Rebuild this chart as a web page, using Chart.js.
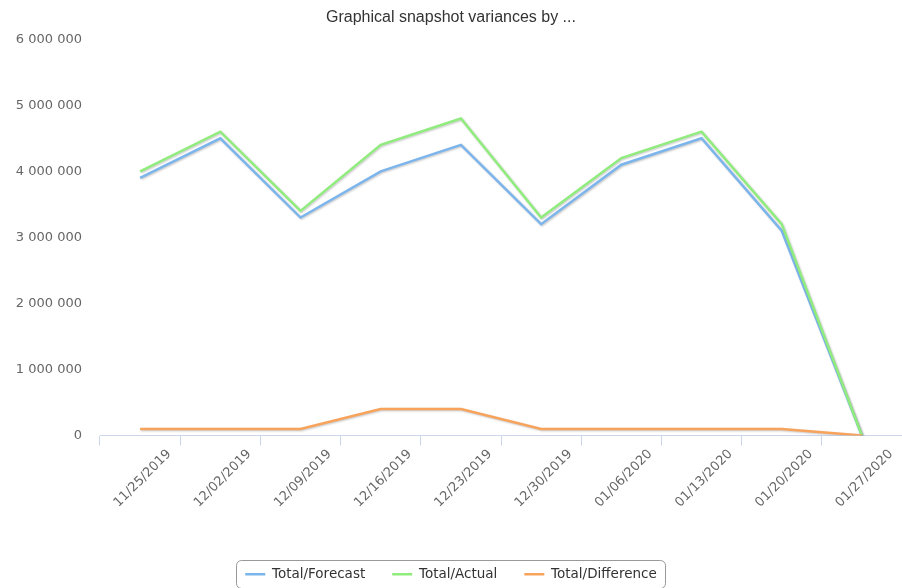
<!DOCTYPE html>
<html lang="en">

<head>
    <meta charset="UTF-8">
    <title>Graphical snapshot variances</title>
    <script src="https://cdn.jsdelivr.net/npm/chart.js"></script>
    <style>
        html, body {
            margin: 0;
            padding: 0;
            background: #ffffff;
        }

        .chart-box {
            width: 902px;
            height: 588px;
        }
    </style>
</head>

<body>
    <div class="chart-box">
        <canvas id="varianceChart"></canvas>
    </div>
    <script>
        // weeks on the x axis
        var weeks = ['11/25/2019', '12/02/2019', '12/09/2019', '12/16/2019', '12/23/2019',
            '12/30/2019', '01/06/2020', '01/13/2020', '01/20/2020', '01/27/2020'];

        // series values
        var forecast = [3900000, 4500000, 3300000, 4000000, 4400000, 3200000, 4100000, 4500000, 3100000, 0];
        var actual = [4000000, 4600000, 3400000, 4400000, 4800000, 3300000, 4200000, 4600000, 3200000, 0];
        var difference = [100000, 100000, 100000, 400000, 400000, 100000, 100000, 100000, 100000, 0];

        var seriesNames = ['Total/Forecast', 'Total/Actual', 'Total/Difference'];

        // y axis range
        var yMin = 0;
        var yMax = 6000000;
        var yStep = 1000000;

        function spaced(v) {
            return String(v).replace(/\B(?=(\d{3})+(?!\d))/g, ' ');
        }

        // soft drop shadow under each line, like the original
        var lineShadow = {
            id: 'lineShadow',
            beforeDatasetDraw: function (chart) {
                var ctx = chart.ctx;
                ctx.save();
                ctx.shadowColor = 'rgba(0, 0, 0, 0.22)';
                ctx.shadowBlur = 2;
                ctx.shadowOffsetX = 1;
                ctx.shadowOffsetY = 1;
            },
            afterDatasetDraw: function (chart) {
                chart.ctx.restore();
            }
        };

        // rounded frame round the legend items
        var legendFrame = {
            id: 'legendFrame',
            afterDraw: function (chart) {
                var boxes = chart.legend.legendHitBoxes;
                if (!boxes || !boxes.length) return;
                var left = Math.min.apply(null, boxes.map(function (b) { return b.left; }));
                var right = Math.max.apply(null, boxes.map(function (b) { return b.left + b.width; }));
                var mid = boxes[0].top + boxes[0].height / 2;
                var ctx = chart.ctx;
                ctx.save();
                ctx.strokeStyle = '#999999';
                ctx.lineWidth = 1;
                ctx.beginPath();
                ctx.roundRect(Math.round(left - 9) + 0.5, Math.round(mid - 14) + 0.5, Math.round(right - left + 18), 28, 5);
                ctx.stroke();
                ctx.restore();
            }
        };

        var colors = ['#7cb5ec', '#90ed7d', '#f7a35c'];
        var values = [forecast, actual, difference];

        var varianceChart = new Chart(document.getElementById('varianceChart'), {
            type: 'line',
            data: {
                labels: weeks,
                datasets: values.map(function (v, i) {
                    return {
                        label: seriesNames[i],
                        data: v,
                        borderColor: colors[i],
                        backgroundColor: colors[i],
                        borderWidth: 2.5,
                        pointRadius: 0,
                        tension: 0,
                        order: 2 - i
                    };
                })
            },
            options: {
                responsive: true,
                maintainAspectRatio: false,
                animation: false,
                layout: {
                    padding: { left: 0, right: 0, top: 0, bottom: -3 }
                },
                plugins: {
                    title: {
                        display: true,
                        text: 'Graphical snapshot variances by ...',
                        color: '#333333',
                        font: { family: 'Liberation Sans', size: 16, weight: 'normal' },
                        padding: { top: 8, bottom: 12 }
                    },
                    legend: {
                        position: 'bottom',
                        labels: {
                            usePointStyle: true,
                            pointStyleWidth: 20,
                            pointStyle: 'line',
                            padding: 27,
                            color: '#333333',
                            font: { family: 'DejaVu Sans', size: 13.5 },
                            sort: function (a, b) { return a.datasetIndex - b.datasetIndex; }
                        }
                    },
                    tooltip: { enabled: false }
                },
                scales: {
                    x: {
                        offset: true,
                        grid: {
                            offset: true,
                            drawOnChartArea: false,
                            drawTicks: true,
                            tickLength: 10,
                            color: '#ccd6eb'
                        },
                        border: { color: '#ccd6eb' },
                        ticks: {
                            color: '#666666',
                            font: { family: 'DejaVu Sans', size: 13 },
                            maxRotation: 45,
                            minRotation: 45,
                            autoSkip: false,
                            labelOffset: 29,
                            padding: 1
                        },
                        afterFit: function (scale) { scale.height = 105; }
                    },
                    y: {
                        min: yMin,
                        max: yMax,
                        grid: { display: false, drawTicks: false },
                        border: { display: false },
                        ticks: {
                            stepSize: yStep,
                            color: '#666666',
                            font: { family: 'DejaVu Sans', size: 13 },
                            padding: 18,
                            callback: function (v) { return spaced(v); }
                        },
                        afterFit: function (scale) { scale.width = 100; }
                    }
                }
            },
            plugins: [lineShadow, legendFrame]
        });
    </script>
</body>

</html>
